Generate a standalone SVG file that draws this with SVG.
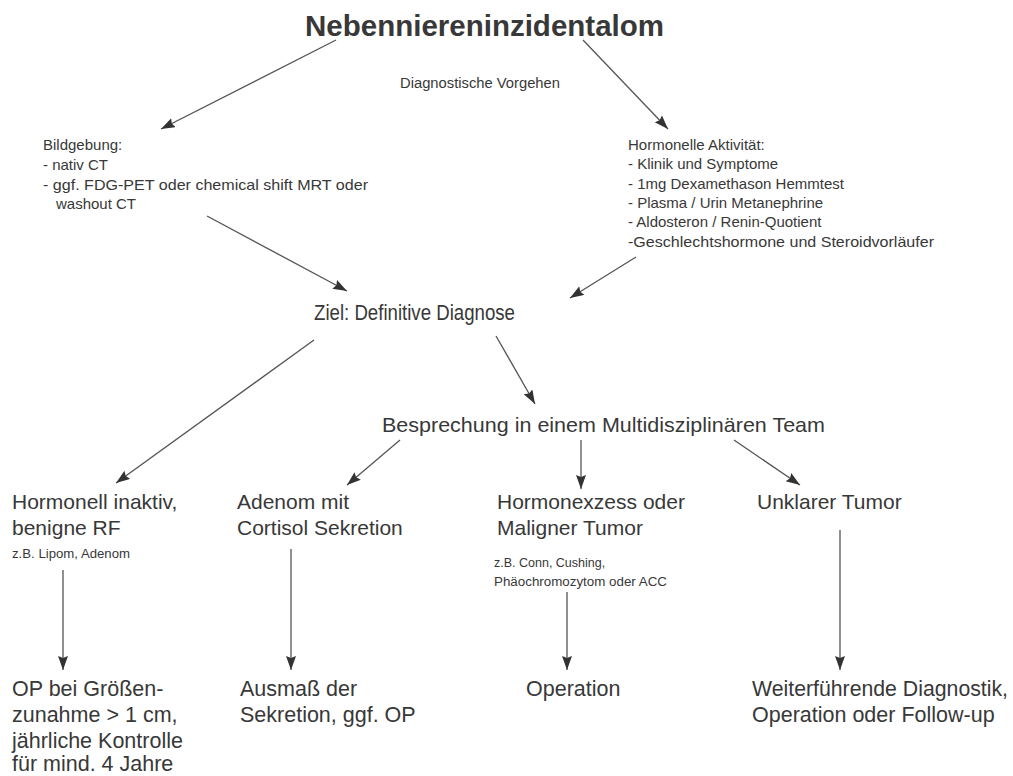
<svg xmlns="http://www.w3.org/2000/svg" width="1013" height="776" viewBox="0 0 1013 776">
<style>
text{font-family:"Liberation Sans",Arial,sans-serif;fill:#383838}
.title{font-size:30px;font-weight:bold}
.s{font-size:15px}
.xs{font-size:12.5px}
.m{font-size:21px}
.l{font-size:21.5px}
.c{fill:none;stroke:#555;stroke-width:1.3;marker-end:url(#ah)}
</style>
<defs>
<marker id="ah" markerUnits="userSpaceOnUse" markerWidth="16" markerHeight="12" refX="14" refY="5" orient="auto">
<path d="M0,0 L14,5 L0,10 L2,5 z" fill="#333"/>
</marker>
</defs>
<rect width="1013" height="776" fill="#fff"/>
<g id="connectors">
<line class="c" x1="336" y1="40" x2="161" y2="129"/>
<line class="c" x1="583" y1="40" x2="668" y2="129"/>
<line class="c" x1="207" y1="216" x2="347" y2="291"/>
<line class="c" x1="636" y1="257" x2="570" y2="298"/>
<line class="c" x1="314" y1="340" x2="116" y2="483"/>
<line class="c" x1="496" y1="336" x2="535" y2="404"/>
<line class="c" x1="400" y1="440" x2="347" y2="485"/>
<line class="c" x1="581" y1="440" x2="581" y2="489"/>
<line class="c" x1="734" y1="440" x2="800" y2="485"/>
<line class="c" x1="63" y1="570" x2="63" y2="670"/>
<line class="c" x1="291" y1="549" x2="291" y2="670"/>
<line class="c" x1="567" y1="592" x2="567" y2="670"/>
<line class="c" x1="840" y1="530" x2="840" y2="670"/>
</g>
<g id="n-title"><text class="title" x="305" y="36" textLength="359" lengthAdjust="spacingAndGlyphs">Nebenniereninzidentalom</text></g>
<g id="n-diag"><text x="400" y="88" style="font-size:14px" textLength="160" lengthAdjust="spacingAndGlyphs">Diagnostische Vorgehen</text></g>
<g id="n-bild">
<text class="s" x="43" y="150">Bildgebung:</text>
<text class="s" x="43" y="170">- nativ CT</text>
<text class="s" x="43" y="190" textLength="325" lengthAdjust="spacingAndGlyphs">- ggf. FDG-PET oder chemical shift MRT oder</text>
<text class="s" x="56" y="209">washout CT</text>
</g>
<g id="n-hormon">
<text class="s" x="628" y="150">Hormonelle Aktivität:</text>
<text class="s" x="628" y="169">- Klinik und Symptome</text>
<text class="s" x="628" y="189">- 1mg Dexamethason Hemmtest</text>
<text class="s" x="628" y="208">- Plasma / Urin Metanephrine</text>
<text class="s" x="628" y="227">- Aldosteron / Renin-Quotient</text>
<text class="s" x="628" y="247" textLength="306" lengthAdjust="spacingAndGlyphs">-Geschlechtshormone und Steroidvorläufer</text>
</g>
<g id="n-ziel"><text x="314" y="320" style="font-size:22px" textLength="201" lengthAdjust="spacingAndGlyphs">Ziel: Definitive Diagnose</text></g>
<g id="n-team"><text class="m" x="382" y="432" textLength="443" lengthAdjust="spacingAndGlyphs">Besprechung in einem Multidisziplinären Team</text></g>
<g id="n-inaktiv">
<text class="m" x="12" y="509">Hormonell inaktiv,</text>
<text class="m" x="12" y="535">benigne RF</text>
<text class="xs" x="12" y="558" textLength="118" lengthAdjust="spacingAndGlyphs">z.B. Lipom, Adenom</text>
</g>
<g id="n-adenom">
<text class="m" x="237" y="509">Adenom mit</text>
<text class="m" x="237" y="535">Cortisol Sekretion</text>
</g>
<g id="n-exzess">
<text class="m" x="497" y="509">Hormonexzess oder</text>
<text class="m" x="497" y="535">Maligner Tumor</text>
<text class="xs" x="494" y="567">z.B. Conn, Cushing,</text>
<text class="xs" x="494" y="586" textLength="173" lengthAdjust="spacingAndGlyphs">Phäochromozytom oder ACC</text>
</g>
<g id="n-unklar"><text class="m" x="757" y="509">Unklarer Tumor</text></g>
<g id="n-op1">
<text class="l" x="12" y="696">OP bei Größen-</text>
<text class="l" x="12" y="722">zunahme &gt; 1 cm,</text>
<text class="l" x="12" y="748">jährliche Kontrolle</text>
<text class="l" x="12" y="771">für mind. 4 Jahre</text>
</g>
<g id="n-ausmass">
<text class="l" x="240" y="696">Ausmaß der</text>
<text class="l" x="240" y="722">Sekretion, ggf. OP</text>
</g>
<g id="n-op2"><text class="l" x="526" y="696">Operation</text></g>
<g id="n-weiter">
<text class="l" x="752" y="696" textLength="256" lengthAdjust="spacingAndGlyphs">Weiterführende Diagnostik,</text>
<text class="l" x="752" y="722">Operation oder Follow-up</text>
</g>
</svg>
